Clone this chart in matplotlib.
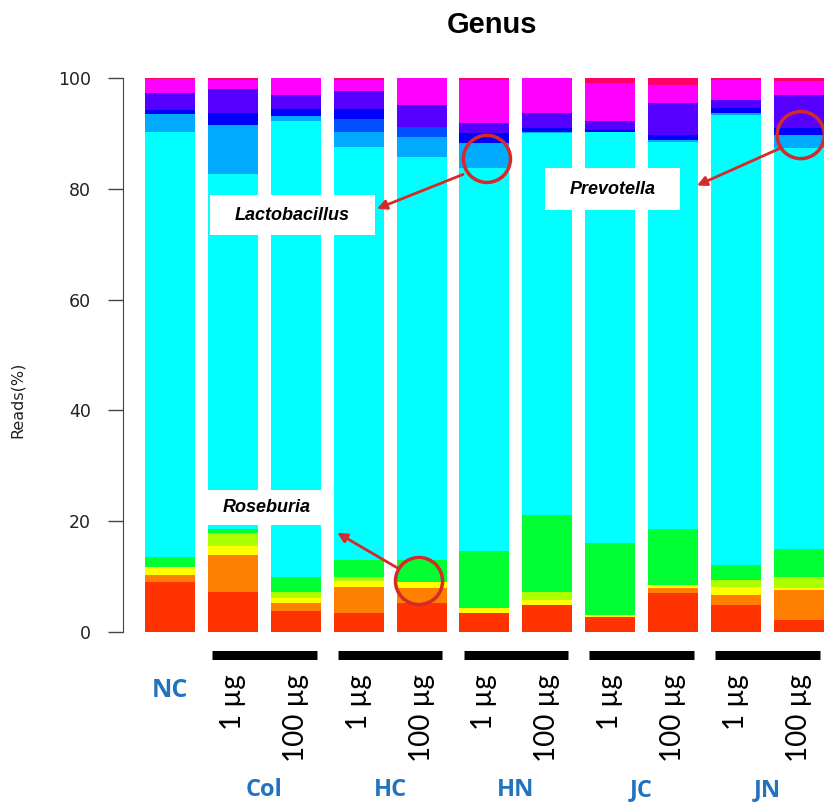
import numpy as np
import matplotlib.pyplot as plt
from matplotlib.patches import Rectangle

# samples, left to right
samples = ['NC', 'Col 1', 'Col 100', 'HC 1', 'HC 100', 'HN 1', 'HN 100',
           'JC 1', 'JC 100', 'JN 1', 'JN 100']
doses = ['', '1 µg', '100 µg', '1 µg', '100 µg', '1 µg', '100 µg',
         '1 µg', '100 µg', '1 µg', '100 µg']
groups = ['Col', 'HC', 'HN', 'JC', 'JN']

# genus abundance (%) per sample, stacked bottom to top
red     = [9.1, 7.3, 3.7, 3.4, 5.2, 3.4, 4.9, 2.7, 7.0, 4.9, 2.2]
orange  = [1.2, 6.6, 1.5, 4.8, 2.7, 0.0, 0.0, 0.0, 0.9, 1.8, 5.4]
yellow  = [1.4, 1.6, 1.0, 1.0, 1.2, 0.9, 0.9, 0.4, 0.6, 1.5, 0.3]
lime    = [0.0, 2.4, 1.1, 0.8, 0.0, 0.0, 1.5, 0.0, 0.0, 1.2, 2.1]
green   = [1.9, 0.7, 2.7, 3.0, 3.9, 10.3, 13.9, 13.0, 10.1, 2.7, 5.0]
cyan    = [76.7, 64.0, 82.3, 74.5, 72.7, 69.1, 68.8, 74.2, 69.9, 81.3, 72.3]
azure   = [3.2, 8.9, 0.9, 2.8, 3.6, 4.5, 0.3, 0.0, 0.3, 0.3, 2.4]
royal   = [0.0, 0.0, 0.0, 2.3, 1.8, 0.0, 0.0, 0.0, 0.0, 0.0, 0.0]
blue    = [0.8, 2.1, 1.2, 1.8, 0.0, 1.8, 0.6, 0.3, 0.9, 0.9, 1.2]
violet  = [3.0, 4.4, 2.6, 3.2, 4.0, 1.8, 2.8, 1.6, 5.8, 1.5, 6.1]
magenta = [2.5, 1.6, 3.0, 2.0, 4.9, 7.8, 6.3, 6.9, 3.3, 3.5, 2.4]
pink    = [0.2, 0.4, 0.0, 0.4, 0.0, 0.4, 0.0, 0.9, 1.2, 0.4, 0.6]

layers = [red, orange, yellow, lime, green, cyan, azure, royal, blue,
          violet, magenta, pink]
colors = ['#ff3300', '#ff8000', '#ffff00', '#aaff00', '#00ff33', '#00ffff',
          '#00aaff', '#0050ff', '#0000ff', '#5500ff', '#ff00ff', '#ff0066']

RED = '#d42a2a'
BLUE = '#2173c0'

fig = plt.figure(figsize=(8.24, 8.06), dpi=100)
ax = fig.add_axes([0.1493, 0.2159, 0.8507, 0.6873])

x = np.arange(len(samples))
bottom = np.zeros(len(samples))
for vals, c in zip(layers, colors):
    ax.bar(x, vals, width=0.795, bottom=bottom, color=c, linewidth=0)
    bottom += np.array(vals)

ax.set_xlim(-0.747, 10.40)
ax.set_ylim(0, 100)
for s in ['top', 'right', 'bottom']:
    ax.spines[s].set_visible(False)
ax.spines['left'].set_bounds(0, 100)
ax.spines['left'].set_color('#444444')
ax.set_xticks([])
ax.set_yticks([0, 20, 40, 60, 80, 100])
ax.tick_params(axis='y', length=11, width=1, color='#444444', pad=12,
               labelsize=12.5, labelcolor='#222222')
ax.set_ylabel('Reads(%)', fontsize=11.5, color='#222222')
ax.yaxis.set_label_coords(-0.14, 0.42)

fig.text(0.597, 0.969, 'Genus', ha='center', va='center', fontsize=21,
         fontweight='bold', family='Liberation Sans')

# highlighted genera: circle on the bar, arrow to a label box
circles = [(5.04, 85.4), (10.03, 89.7), (3.96, 9.2)]
for cx, cy in circles:
    ax.scatter(cx, cy, s=1150, facecolors='none', edgecolors=RED,
               linewidths=2.5, zorder=5, clip_on=False)

labels = ['Lactobacillus', 'Prevotella', 'Roseburia']
boxes = [(0.636, 71.6, 2.62, 7.2), (5.96, 76.1, 2.15, 7.6), (0.60, 19.4, 1.86, 6.3)]
arrows = [((4.66, 82.6), (3.29, 76.4)), ((9.70, 87.3), (8.38, 80.6)),
          ((3.61, 11.6), (2.66, 17.9))]
for name, (bx, by, bw, bh), (tail, head) in zip(labels, boxes, arrows):
    ax.add_patch(Rectangle((bx, by), bw, bh, facecolor='white',
                           edgecolor='none', zorder=4))
    ax.text(bx + bw / 2, by + bh / 2, name, ha='center', va='center',
            fontsize=13, fontweight='bold', style='italic',
            family='Liberation Sans', zorder=6)
    ax.annotate('', xy=head, xytext=tail,
                arrowprops=dict(arrowstyle='-|>', color=RED, lw=2,
                                mutation_scale=14, shrinkA=0, shrinkB=0),
                zorder=6)

# sample labels under the axis
ax.text(0, -10.5, 'NC', ha='center', va='center', fontsize=18,
        fontweight='bold', color=BLUE, family='Open Sans', clip_on=False)
for i, d in enumerate(doses):
    if d:
        ax.text(i, -7.6, d, ha='center', va='top', rotation=90, fontsize=20,
                family='Lato', clip_on=False)
for g, name in enumerate(groups):
    left = 1 + 2 * g
    ax.plot([left - 0.33, left + 1.33], [-4.2, -4.2], color='black', lw=6.5,
            solid_capstyle='butt', clip_on=False)
    ax.text(left + 0.5, -28.6, name, ha='center', va='center', fontsize=17,
            fontweight='bold', color=BLUE, family='Open Sans', clip_on=False)

plt.savefig('out.png', dpi=100)
